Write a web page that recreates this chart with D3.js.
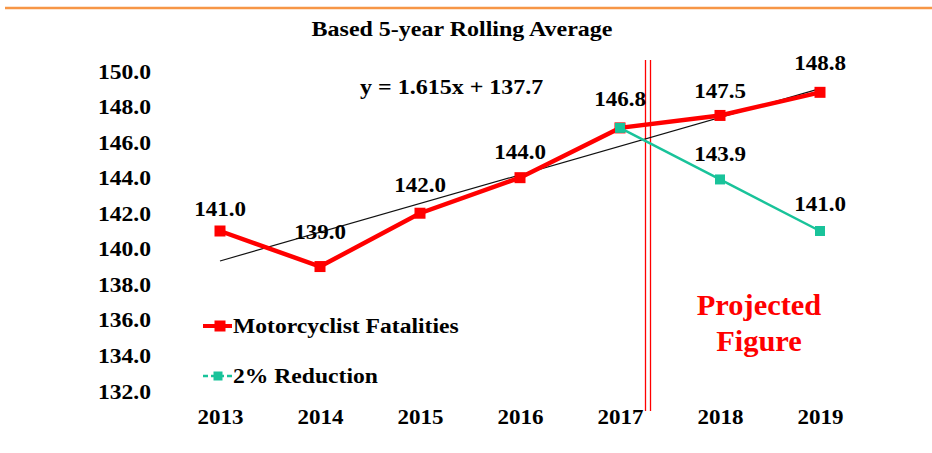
<!DOCTYPE html>
<html><head><meta charset="utf-8">
<script src="https://cdn.jsdelivr.net/npm/d3@7"></script>
<style>html,body{margin:0;padding:0;background:#fff;}svg{display:block;}</style>
</head><body>
<svg id="chart" width="932" height="453"></svg>
<script>
// ---- data ----
const years = ["2013","2014","2015","2016","2017","2018","2019"];
const fatalities = [141.0, 139.0, 142.0, 144.0, 146.8, 147.5, 148.8];
const reductionYears = ["2017","2018","2019"];
const reduction = [146.8, 143.9, 141.0];
const yTicks = [132, 134, 136, 138, 140, 142, 144, 146, 148, 150];
const trendSlope = 1.615, trendIntercept = 137.7;
const titleText = "Based 5-year Rolling Average";
const equationText = "y = 1.615x + 137.7";
const seriesNames = ["Motorcyclist Fatalities", "2% Reduction"];
const projectedText = ["Projected", "Figure"];

// ---- styles ----
const RED = "#ff0000", GREEN = "#19c39a", FONT = "'Liberation Serif','Times New Roman',serif";
const redLabelDy = [-15, -28, -21, -19, -22, -17, -22];
const greenLabelDy = [0, -18, -20];

const svg = d3.select("#chart");
const x = d3.scalePoint().domain(years).range([220, 820]);
const y = d3.scaleLinear().domain([132, 150]).range([391, 71]);

function widen(sel, k) {
  sel.each(function(){ const w = this.getComputedTextLength(); d3.select(this).attr("textLength", w * k).attr("lengthAdjust", "spacingAndGlyphs"); });
}

// orange top rule
svg.append("line").attr("x1", 5).attr("x2", 932).attr("y1", 8).attr("y2", 8)
  .attr("stroke", "#f79646").attr("stroke-width", 2.5);

// title
svg.append("text").attr("x", 462).attr("y", 36).attr("text-anchor", "middle")
  .attr("font-family", FONT).attr("font-weight", "bold").attr("font-size", 22)
  .text(titleText).call(widen, 1.09);

// y axis (labels only)
const yAxis = d3.axisLeft(y).tickValues(yTicks).tickFormat(d3.format(".1f")).tickSize(0).tickPadding(0);
const yg = svg.append("g").attr("transform", "translate(151,0)").call(yAxis);
yg.select(".domain").remove();
yg.selectAll("text").attr("font-family", FONT).attr("font-weight", "bold").attr("font-size", 20).attr("fill", "#000").attr("dy", "0.35em").call(widen, 1.18);

// x axis (labels only)
const xAxis = d3.axisBottom(x).tickSize(0).tickPadding(0);
const xg = svg.append("g").attr("transform", "translate(0,424)").call(xAxis);
xg.select(".domain").remove();
xg.selectAll("text").attr("font-family", FONT).attr("font-weight", "bold").attr("font-size", 20).attr("fill", "#000").attr("dy", 0).call(widen, 1.15);

// vertical double line (projection divider)
const divX = (x("2017") + x("2018")) / 2 - 22;
[divX - 2.5, divX + 2.5].forEach(px => {
  svg.append("line").attr("x1", px).attr("x2", px).attr("y1", 60).attr("y2", 411)
    .attr("stroke", RED).attr("stroke-width", 1.3);
});

// trend line
svg.append("line")
  .attr("x1", x(years[0])).attr("y1", y(trendIntercept + trendSlope * 1))
  .attr("x2", x(years[years.length - 1])).attr("y2", y(trendIntercept + trendSlope * years.length))
  .attr("stroke", "#111").attr("stroke-width", 1.2);

// equation
svg.append("text").attr("x", 360).attr("y", 94).attr("font-family", FONT).attr("font-weight", "bold").attr("font-size", 20)
  .text(equationText).call(widen, 1.2);

// red series
const line = d3.line().x(d => x(d[0])).y(d => y(d[1]));
const redData = years.map((yr, i) => [yr, fatalities[i]]);
const greenData = reductionYears.map((yr, i) => [yr, reduction[i]]);

svg.append("path").datum(redData).attr("d", line).attr("fill", "none").attr("stroke", RED).attr("stroke-width", 4.5);
svg.selectAll(".rm").data(redData).enter().append("rect")
  .attr("x", d => x(d[0]) - 5.5).attr("y", d => y(d[1]) - 5.5).attr("width", 11).attr("height", 11).attr("fill", RED);

// green series
svg.append("path").datum(greenData).attr("d", line).attr("fill", "none").attr("stroke", GREEN).attr("stroke-width", 2.5);
svg.selectAll(".gm").data(greenData).enter().append("rect")
  .attr("x", d => x(d[0]) - 5).attr("y", d => y(d[1]) - 5).attr("width", 10).attr("height", 10).attr("fill", GREEN);

// data labels
svg.selectAll(".rl").data(redData).enter().append("text")
  .attr("x", d => x(d[0])).attr("y", (d, i) => y(d[1]) + redLabelDy[i])
  .attr("text-anchor", "middle").attr("font-family", FONT).attr("font-weight", "bold").attr("font-size", 20)
  .text(d => d[1].toFixed(1)).call(widen, 1.15);
svg.selectAll(".gl").data(greenData.slice(1)).enter().append("text")
  .attr("x", d => x(d[0])).attr("y", (d, i) => y(d[1]) + greenLabelDy[i + 1])
  .attr("text-anchor", "middle").attr("font-family", FONT).attr("font-weight", "bold").attr("font-size", 20)
  .text(d => d[1].toFixed(1)).call(widen, 1.15);

// projected figure text
projectedText.forEach((t, i) => {
  svg.append("text").attr("x", 759).attr("y", 315 + i * 36).attr("text-anchor", "middle")
    .attr("font-family", FONT).attr("font-weight", "bold").attr("font-size", 29).attr("fill", RED)
    .text(t).call(widen, 1.05);
});

// legend
const lg = svg.append("g");
lg.append("line").attr("x1", 203).attr("x2", 232).attr("y1", 326).attr("y2", 326).attr("stroke", RED).attr("stroke-width", 4);
lg.append("rect").attr("x", 214.5).attr("y", 320.5).attr("width", 11).attr("height", 11).attr("fill", RED);
lg.append("text").attr("x", 233).attr("y", 333).attr("font-family", FONT).attr("font-weight", "bold").attr("font-size", 20)
  .text(seriesNames[0]).call(widen, 1.18);
lg.append("line").attr("x1", 203).attr("x2", 232).attr("y1", 376).attr("y2", 376).attr("stroke", GREEN).attr("stroke-width", 2.5).attr("stroke-dasharray", "5,3");
lg.append("rect").attr("x", 213.5).attr("y", 371.5).attr("width", 9).attr("height", 9).attr("fill", GREEN);
lg.append("text").attr("x", 233).attr("y", 383).attr("font-family", FONT).attr("font-weight", "bold").attr("font-size", 20)
  .text(seriesNames[1]).call(widen, 1.18);
</script>
</body></html>
